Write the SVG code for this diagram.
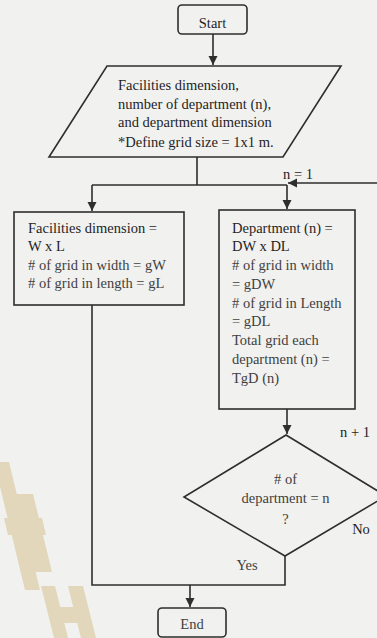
<svg xmlns="http://www.w3.org/2000/svg" width="377" height="638" viewBox="0 0 377 638">
  <style>
    .shape{fill:none;stroke:#2e2e2e;stroke-width:1.6}
    .ln{fill:none;stroke:#2e2e2e;stroke-width:1.6}
    .t{font-family:"Liberation Serif","Times New Roman",serif;font-size:14.5px;fill:#1f1f1f}
    .lt{fill:#3f3f3f}
    .c{text-anchor:middle}
    .deco{fill:#e2d6bb}
  </style>
  <defs>
    <marker id="arrow" viewBox="0 0 10 10" refX="10" refY="5" markerWidth="9" markerHeight="10" markerUnits="userSpaceOnUse" orient="auto">
      <path d="M0,0 L10,5 L0,10 z" fill="#2e2e2e"/>
    </marker>
  </defs>

  <!-- paper -->
  <rect width="377" height="638" fill="#f1f1ef"/>

  <!-- slanted ladder ornament, lower left -->
  <g id="ornament">
    <polygon class="deco" points="-6,462 9,462 40,590 25,590"/>
    <polygon class="deco" points="15,494 33,494 52,572 34,572"/>
    <polygon class="deco" points="4,518 42,518 46,535 8,535"/>
    <polygon class="deco" points="41,586 55,586 68,638 54,638"/>
    <polygon class="deco" points="68,586 83,586 96,638 81,638"/>
    <polygon class="deco" points="49,607 87,607 91,623 53,623"/>
  </g>

  <!-- connectors -->
  <g id="connectors">
    <line class="ln" x1="213" y1="34" x2="213" y2="65" marker-end="url(#arrow)"/>
    <line class="ln" x1="197" y1="157" x2="197" y2="185"/>
    <line class="ln" x1="92" y1="185" x2="287" y2="185"/>
    <line class="ln" x1="92" y1="185" x2="92" y2="211" marker-end="url(#arrow)"/>
    <line class="ln" x1="287" y1="185" x2="287" y2="209" marker-end="url(#arrow)"/>
    <line class="ln" x1="378" y1="183" x2="288" y2="183" marker-end="url(#arrow)"/>
    <line class="ln" x1="287" y1="409" x2="287" y2="434" marker-end="url(#arrow)"/>
    <polyline class="ln" points="92,305 92,585 285,585 285,556"/>
    <line class="ln" x1="190" y1="585" x2="190" y2="607" marker-end="url(#arrow)"/>
    <text class="t c" x="298" y="179">n = 1</text>
    <text class="t c" x="355" y="437">n + 1</text>
    <text class="t c" x="361" y="534">No</text>
    <text class="t lt c" x="247" y="570">Yes</text>
  </g>

  <g id="start">
    <rect class="shape" x="178" y="5" width="69" height="29" rx="4"/>
    <text class="t c" x="212.5" y="27.5">Start</text>
  </g>

  <g id="input">
    <polygon class="shape" points="107,66 341,66 283,157 49,157"/>
    <text class="t" x="118" y="89.5">Facilities dimension,</text>
    <text class="t" x="118" y="108.5">number of department (n),</text>
    <text class="t" x="118" y="127">and department dimension</text>
    <text class="t" x="118" y="146.5">*Define grid size = 1x1 m.</text>
  </g>

  <g id="facilities">
    <rect class="shape" x="14" y="212" width="170" height="93"/>
    <text class="t" x="28" y="232.5">Facilities dimension =</text>
    <text class="t" x="28" y="251">W x L</text>
    <text class="t lt" x="28" y="269.5"># of grid in width = gW</text>
    <text class="t lt" x="28" y="288"># of grid in length = gL</text>
  </g>

  <g id="department">
    <rect class="shape" x="219" y="210" width="136" height="199"/>
    <text class="t" x="232" y="232.5">Department (n) =</text>
    <text class="t" x="232" y="251.25">DW x DL</text>
    <text class="t lt" x="232" y="270"># of grid in width</text>
    <text class="t lt" x="232" y="288.75">= gDW</text>
    <text class="t lt" x="232" y="307.5"># of grid in Length</text>
    <text class="t lt" x="232" y="326.25">= gDL</text>
    <text class="t lt" x="232" y="345">Total grid each</text>
    <text class="t lt" x="232" y="363.75">department (n) =</text>
    <text class="t lt" x="232" y="382.5">TgD (n)</text>
  </g>

  <g id="decision">
    <polygon class="shape" points="286,435 386,496 285,556 184,497"/>
    <text class="t lt c" x="285.5" y="483.5"># of</text>
    <text class="t lt c" x="285.5" y="502.5">department = n</text>
    <text class="t lt c" x="285.5" y="523.5">?</text>
  </g>

  <g id="end">
    <rect class="shape" x="158" y="608" width="68" height="29" rx="4" stroke="#505050"/>
    <text class="t lt c" x="192" y="629">End</text>
  </g>
</svg>
